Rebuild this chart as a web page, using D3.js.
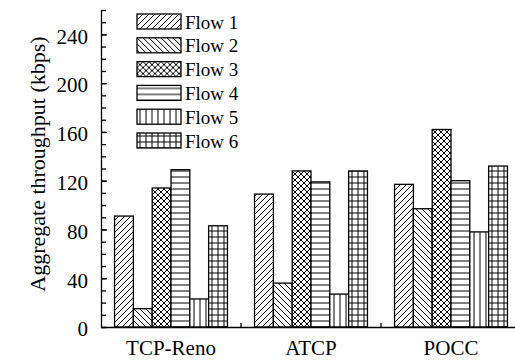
<!DOCTYPE html>
<html>
<head>
<meta charset="utf-8">
<script src="https://cdn.jsdelivr.net/npm/d3@7"></script>
<style>
	body { margin: 0; background: #fff; }
	svg text { font-family: "Times New Roman", "Liberation Serif", "DejaVu Serif", Times, serif; fill: #000; }
</style>
</head>
<body>
<svg id="chart"></svg>
<script>
const WIDTH = 515;
const HEIGHT = 360;
const FONT = '"Times New Roman", "Liberation Serif", "DejaVu Serif", Times, serif';

const categories = ['TCP-Reno', 'ATCP', 'POCC'];
const flows = ['Flow 1', 'Flow 2', 'Flow 3', 'Flow 4', 'Flow 5', 'Flow 6'];
const flow1 = [91, 109, 117];
const flow2 = [15, 36, 97];
const flow3 = [114, 128, 162];
const flow4 = [129, 119, 120];
const flow5 = [23, 27, 78];
const flow6 = [83, 128, 132];
const majorTicks = [0, 40, 80, 120, 160, 200, 240];
const minorTicks = d3.range(0, 261, 10);

const series = [flow1, flow2, flow3, flow4, flow5, flow6];
const patternIds = ['p-fwd', 'p-back', 'p-cross', 'p-horiz', 'p-vert', 'p-grid'];

const svg = d3.select('#chart')
	.attr('width', WIDTH)
	.attr('height', HEIGHT);

// hatch patterns, one per flow
const patternPaths = {
	'p-fwd': 'M0,6L6,0M-1,1L1,-1M5,7L7,5',
	'p-back': 'M0,0L6,6M-1,5L1,7M5,-1L7,1',
	'p-cross': 'M0,6L6,0M-1,1L1,-1M5,7L7,5M0,0L6,6M-1,5L1,7M5,-1L7,1',
	'p-horiz': 'M0,3H6',
	'p-vert': 'M3,0V6',
	'p-grid': 'M0,3H6M3,0V6'
};
const defs = svg.append('defs');
Object.keys(patternPaths).forEach(id => {
	const p = defs.append('pattern')
		.attr('id', id)
		.attr('patternUnits', 'userSpaceOnUse')
		.attr('width', 6)
		.attr('height', 6);
	p.append('rect').attr('width', 6).attr('height', 6).attr('fill', '#fff');
	p.append('path')
		.attr('d', patternPaths[id])
		.attr('stroke', '#000')
		.attr('stroke-width', 1)
		.attr('fill', 'none');
});

const x0 = d3.scaleBand()
	.domain(categories)
	.range([101, 521]);
const x1 = d3.scaleBand()
	.domain(flows)
	.range([0, x0.bandwidth()])
	.paddingOuter(0.72);
const y = d3.scaleLinear()
	.domain([0, 260])
	.range([327, 10]);

// bars
const groups = svg.append('g')
	.selectAll('g')
	.data(categories)
	.enter()
	.append('g')
	.attr('transform', d => `translate(${x0(d)},0)`);

groups.selectAll('rect')
	.data((c, ci) => flows.map((f, fi) => ({flow: f, idx: fi, value: series[fi][ci]})))
	.enter()
	.append('rect')
	.attr('x', d => x1(d.flow))
	.attr('y', d => y(d.value))
	.attr('width', x1.bandwidth())
	.attr('height', d => y(0) - y(d.value))
	.attr('fill', d => `url(#${patternIds[d.idx]})`)
	.attr('stroke', '#000')
	.attr('stroke-width', 1.3);

// y axis: minor ticks then labelled major ticks
svg.append('g')
	.attr('transform', 'translate(101,0)')
	.call(d3.axisLeft(y).tickValues(minorTicks).tickSizeInner(-5).tickSizeOuter(0).tickFormat(''))
	.call(g => g.selectAll('line, path').attr('stroke', '#000').attr('stroke-width', 1.3));

svg.append('g')
	.attr('transform', 'translate(101,0)')
	.call(d3.axisLeft(y).tickValues(majorTicks).tickSizeInner(-6).tickSizeOuter(0).tickPadding(13))
	.attr('font-family', FONT)
	.call(g => g.select('.domain').remove())
	.call(g => g.selectAll('line').attr('stroke', '#000').attr('stroke-width', 1.3))
	.call(g => g.selectAll('text').attr('font-size', 21).attr('dy', '0.42em'));

// x axis
svg.append('g')
	.attr('transform', 'translate(0,327)')
	.call(d3.axisBottom(x0).tickSize(0).tickPadding(13))
	.attr('font-family', FONT)
	.call(g => g.select('.domain').attr('stroke', '#000').attr('stroke-width', 1.3))
	.call(g => g.selectAll('text').attr('font-size', 21));

// small marks between groups
svg.append('g')
	.selectAll('line')
	.data(categories.slice(1))
	.enter()
	.append('line')
	.attr('x1', d => x0(d))
	.attr('x2', d => x0(d))
	.attr('y1', 327)
	.attr('y2', 323)
	.attr('stroke', '#000')
	.attr('stroke-width', 1.3);

// y label
svg.append('text')
	.attr('transform', 'translate(45,164) rotate(-90)')
	.attr('text-anchor', 'middle')
	.attr('font-family', FONT)
	.attr('font-size', 22)
	.text('Aggregate throughput (kbps)');

// legend
const legend = svg.append('g')
	.selectAll('g')
	.data(flows)
	.enter()
	.append('g')
	.attr('transform', (d, i) => `translate(137,${14 + i * 23.8})`);

legend.append('rect')
	.attr('width', 44)
	.attr('height', 15)
	.attr('fill', (d, i) => `url(#${patternIds[i]})`)
	.attr('stroke', '#000')
	.attr('stroke-width', 1.3);

legend.append('text')
	.attr('x', 48)
	.attr('y', 8)
	.attr('dy', '0.35em')
	.attr('font-family', FONT)
	.attr('font-size', 19)
	.text(d => d);
</script>
</body>
</html>
